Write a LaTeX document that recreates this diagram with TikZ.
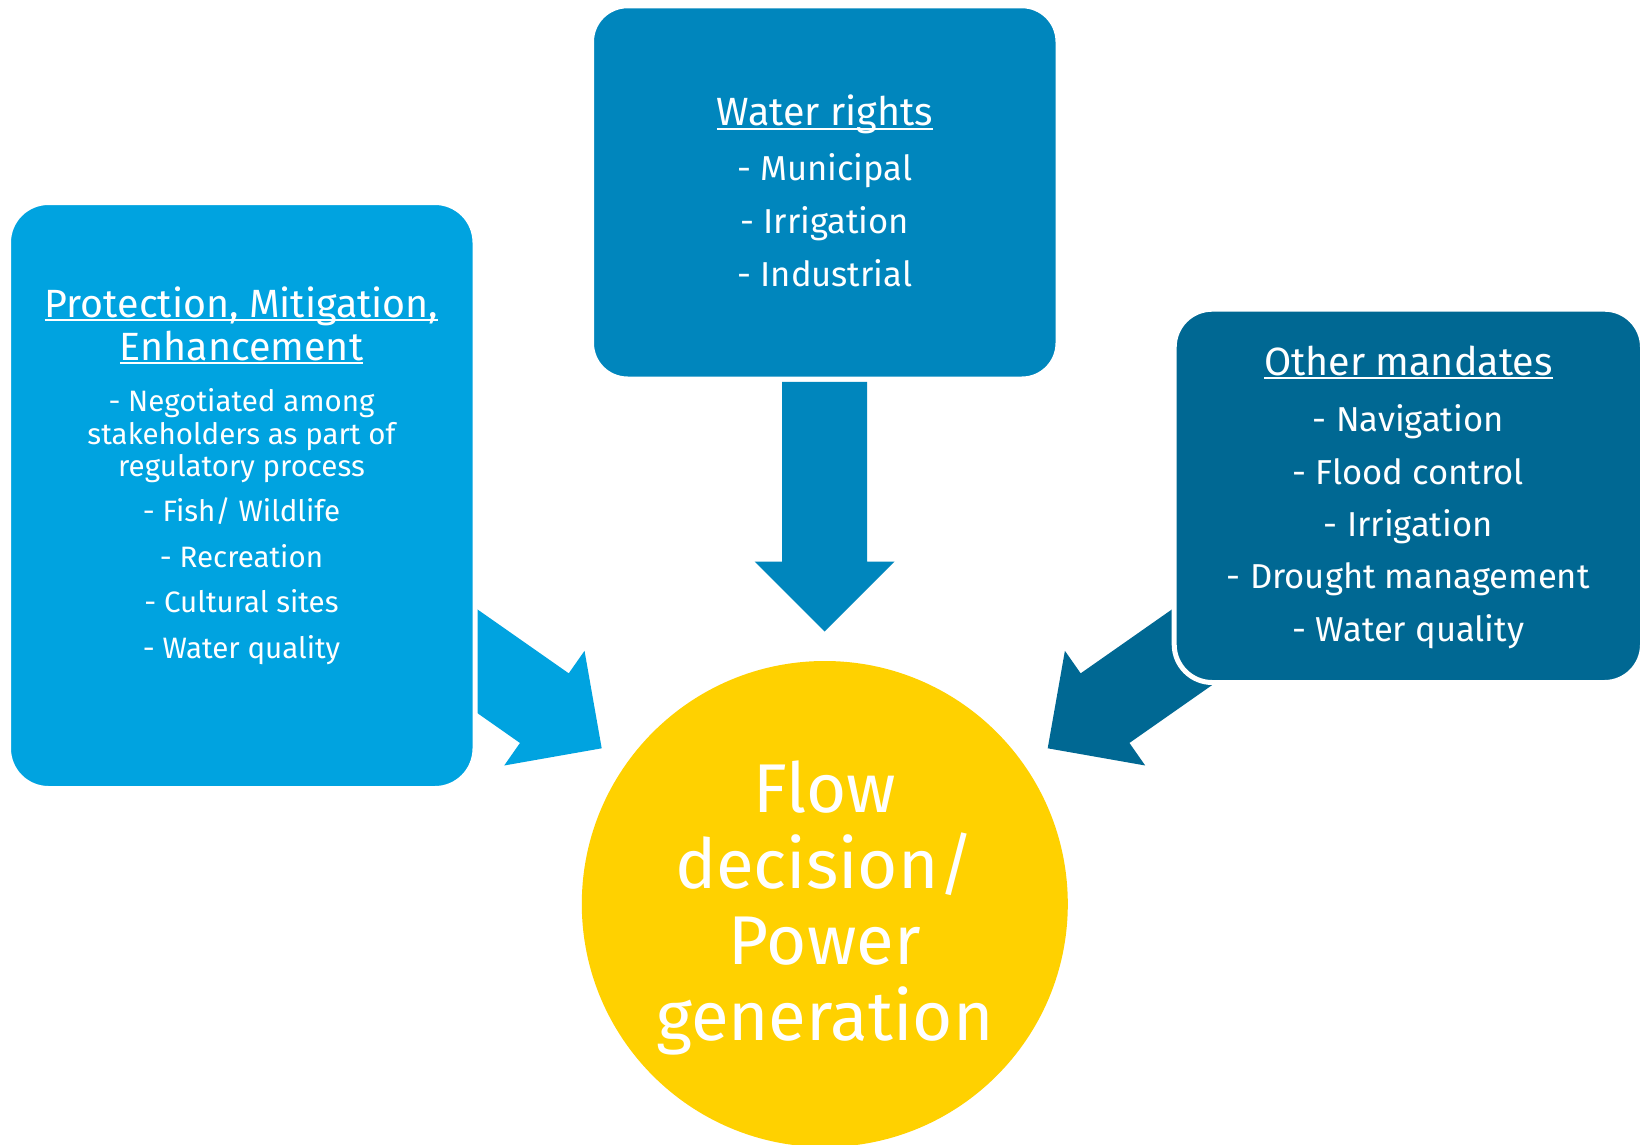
\documentclass[tikz,border=0pt]{standalone}
\usepackage{fontspec}
\setmainfont{Fira Sans}

\definecolor{protblue}{RGB}{0,163,224}
\definecolor{rightsblue}{RGB}{0,134,189}
\definecolor{mandblue}{RGB}{0,104,147}
\definecolor{flowyellow}{RGB}{255,209,0}

% underline that crosses the descenders, close to the baseline
\newsavebox\ulbox
\newcommand\ulin[1]{\sbox\ulbox{#1}\rlap{\rule[-4pt]{\wd\ulbox}{2.4pt}}\usebox\ulbox}

\newcommand\fthead{\fontsize{39.4}{39.4}\selectfont}
\newcommand\ftitem{\fontsize{34.6}{34.6}\selectfont}
\newcommand\ftsmall{\fontsize{29.5}{29.5}\selectfont}
\newcommand\ftbig{\fontsize{69}{76}\selectfont}

% block arrow: colour, tip coordinate, direction angle, shaft length
\newcommand\blockarrow[4]{%
  \fill[#1, shift={(#2)}, rotate=#3]
    (0,0) -- (-70,70) -- (-70,42.5) -- ({-70-#4},42.5)
    -- ({-70-#4},-42.5) -- (-70,-42.5) -- (-70,-70) -- cycle;}

\tikzset{
  panel/.style={rectangle, rounded corners=#1, draw=white, line width=5pt, inner sep=0pt},
  ln/.style={anchor=base, inner sep=0pt, outer sep=0pt, text=white},
}

\begin{document}
\begin{tikzpicture}[x=1pt, y=-1pt]
\useasboundingbox[fill=white] (0,0) rectangle (1642,1145);

% arrow tips
\coordinate (tipL) at (601.7,748.3);
\coordinate (tipC) at (824.7,631.5);
\coordinate (tipR) at (1047.7,748.3);

% block arrows towards the decision circle
\blockarrow{protblue}{tipL}{-35}{200}
\blockarrow{rightsblue}{tipC}{-90}{180}
\blockarrow{mandblue}{tipR}{-145}{200}

% the three source panels
\node[panel=40pt, fill=protblue, minimum width=466.5pt, minimum height=586pt]
  (prot) at (241.75,495.5) {};
\node[panel=36pt, fill=rightsblue, minimum width=466.5pt, minimum height=373.2pt]
  (rights) at (824.75,192.4) {};
\node[panel=38pt, fill=mandblue, minimum width=468.3pt, minimum height=373.3pt]
  (mand) at (1408.35,495.85) {};

% decision circle
\node[circle, fill=flowyellow, minimum size=486pt, inner sep=0pt] (flow) at (824.8,904) {};

% Protection, Mitigation, Enhancement
\node[ln, font=\fthead] (p1) at (241.5,317.3) {\ulin{Protection, Mitigation,}};
\node[ln, font=\fthead] (p2) at (241.5,360) {\ulin{Enhancement}};
\node[ln, font=\ftsmall] (p3) at (241.5,411.7) {- Negotiated among};
\node[ln, font=\ftsmall] (p4) at (241.5,444.3) {stakeholders as part of};
\node[ln, font=\ftsmall] (p5) at (241.5,476.8) {regulatory process};
\node[ln, font=\ftsmall] (p6) at (241.5,521.7) {- Fish/ Wildlife};
\node[ln, font=\ftsmall] (p7) at (241.5,567.3) {- Recreation};
\node[ln, font=\ftsmall] (p8) at (241.5,612.7) {- Cultural sites};
\node[ln, font=\ftsmall] (p9) at (241.5,658.3) {- Water quality};

% Water rights
\node[ln, font=\fthead] (r1) at (824.8,126) {\ulin{Water rights}};
\node[ln, font=\ftitem] (r2) at (824.8,181) {- Municipal};
\node[ln, font=\ftitem] (r3) at (824.8,233.3) {- Irrigation};
\node[ln, font=\ftitem] (r4) at (824.8,286.7) {- Industrial};

% Other mandates
\node[ln, font=\fthead] (m1) at (1408.3,375) {\ulin{Other mandates}};
\node[ln, font=\ftitem] (m2) at (1408.3,431.7) {- Navigation};
\node[ln, font=\ftitem] (m3) at (1408.3,484.3) {- Flood control};
\node[ln, font=\ftitem] (m4) at (1408.3,536.7) {- Irrigation};
\node[ln, font=\ftitem] (m5) at (1408.3,588.3) {- Drought management};
\node[ln, font=\ftitem] (m6) at (1408.3,641.7) {- Water quality};

% Flow decision / Power generation
\node[ln, font=\ftbig] (f1) at (824.8,812.3) {Flow};
\node[ln, font=\ftbig] (f2) at (824.8,888.3) {decision/};
\node[ln, font=\ftbig] (f3) at (824.8,964.3) {Power};
\node[ln, font=\ftbig] (f4) at (824.8,1040) {generation};
\end{tikzpicture}
\end{document}
